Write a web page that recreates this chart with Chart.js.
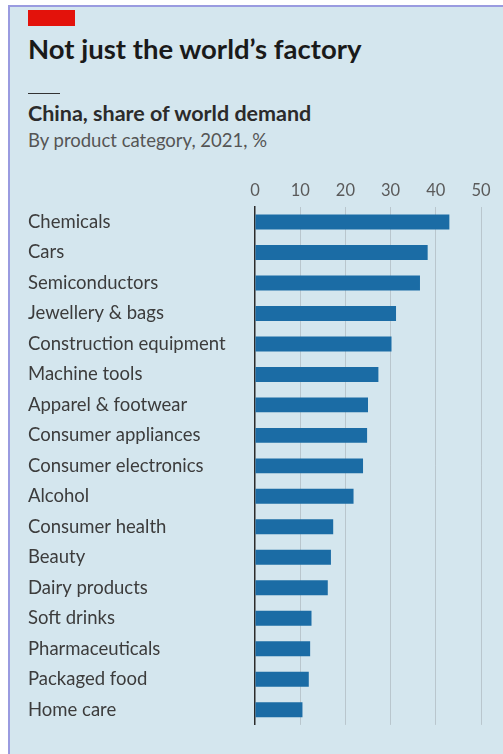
<!DOCTYPE html>
<html>
<head>
<meta charset="utf-8">
<script src="https://cdn.jsdelivr.net/npm/chart.js@4"></script>
<style>
  html, body { margin: 0; padding: 0; background: #fff; }
  #panel {
    position: absolute; left: 8px; top: 5px; width: 495px; height: 749px;
    background: #d4e6ee; border-left: 2px solid #9a9be0; border-top: 2px solid #9a9be0;
    box-sizing: border-box; font-family: Lato, "Noto Sans", sans-serif;
  }
  #redbar { position: absolute; left: 18px; top: 3px; width: 47px; height: 16px; background: #e3120b; }
  #title { position: absolute; left: 18px; top: 25px; font-size: 27.5px; font-weight: 700; color: #1a1a1a; white-space: nowrap; }
  #rule { position: absolute; left: 18px; top: 86px; width: 32px; height: 1px; background: #333; }
  #sub1 { position: absolute; left: 18px; top: 93px; font-size: 21.5px; font-weight: 700; color: #2b2b2b; white-space: nowrap; }
  #sub2 { position: absolute; left: 18px; top: 122px; font-size: 18.5px; color: #555; white-space: nowrap; }
  #wrap { position: absolute; left: 18px; top: 168px; width: 475px; height: 564px; }
</style>
</head>
<body>
<div id="panel">
  <div id="redbar"></div>
  <div id="title">Not just the world’s factory</div>
  <div id="rule"></div>
  <div id="sub1">China, share of world demand</div>
  <div id="sub2">By product category, 2021, %</div>
  <div id="wrap"><canvas id="chart"></canvas></div>
</div>
<script>
// China, share of world demand by product category, 2021, %
const categories = [
    'Chemicals', 'Cars', 'Semiconductors', 'Jewellery & bags', 'Construction equipment',
    'Machine tools', 'Apparel & footwear', 'Consumer appliances', 'Consumer electronics',
    'Alcohol', 'Consumer health', 'Beauty', 'Dairy products', 'Soft drinks',
    'Pharmaceuticals', 'Packaged food', 'Home care'
];
const shares = [43.0, 38.2, 36.5, 31.2, 30.2, 27.3, 25.0, 24.8, 23.9, 21.8, 17.3, 16.8, 16.1, 12.5, 12.2, 11.9, 10.5];
const tickValues = [0, 10, 20, 30, 40, 50];

const ctx = document.getElementById('chart').getContext('2d');

const chart = new Chart(ctx, {
    type: 'bar',
    data: {
        labels: categories,
        datasets: [{
            data: shares,
            backgroundColor: '#1b6ca5',
            barPercentage: 0.49,
            categoryPercentage: 1
        }]
    },
    options: {
        indexAxis: 'y',
        responsive: true,
        maintainAspectRatio: false,
        animation: false,
        layout: { padding: { left: 0, right: 22, top: 0, bottom: 0 } },
        plugins: { legend: { display: false }, tooltip: { enabled: false } },
        scales: {
            x: {
                position: 'top',
                min: 0,
                max: 50,
                afterBuildTicks: scale => { scale.ticks = tickValues.map(v => ({ value: v })); },
                ticks: {
                    color: '#5a5a5a',
                    font: { family: 'Lato', size: 16.5 },
                    padding: 6
                },
                grid: {
                    drawTicks: false,
                    color: c => c.tick && c.tick.value === 0 ? 'rgba(0,0,0,0)' : '#b9c6cd',
                    lineWidth: 1
                },
                border: { display: false }
            },
            y: {
                afterFit: scale => { scale.width = 227; },
                ticks: {
                    crossAlign: 'far',
                    color: '#3c3c3c',
                    font: { family: 'Lato', size: 18.5 }
                },
                grid: { display: false },
                border: { display: true, color: '#2b2b2b', width: 1.5 }
            }
        }
    }
});
</script>
</body>
</html>
